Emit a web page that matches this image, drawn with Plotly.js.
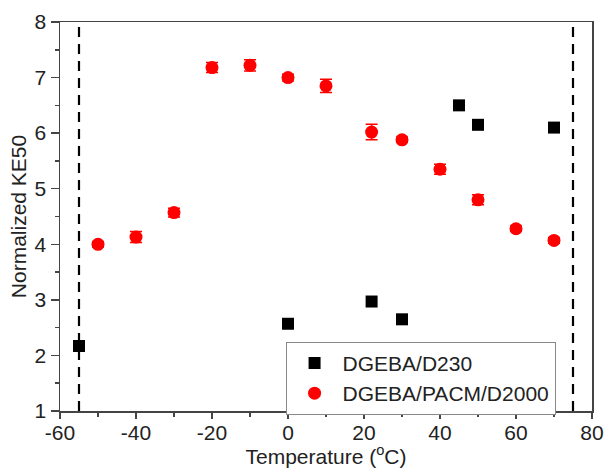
<!DOCTYPE html>
<html>
<head>
<meta charset="utf-8">
<script src="https://cdn.plot.ly/plotly-3.0.1.min.js"></script>
<style>html,body{margin:0;padding:0;background:#fff;}#chart{width:604px;height:468px;}</style>
</head>
<body>
<div id="chart"></div>
<script>
// DGEBA/D230 series
const d230Temp = [-55, 0, 22, 30, 45, 50, 70];
const d230KE50 = [2.17, 2.57, 2.97, 2.65, 6.50, 6.15, 6.10];
const d230Err  = [0.05, 0.06, 0.06, 0.05, 0.07, 0.06, 0.06];

// DGEBA/PACM/D2000 series
const d2000Temp = [-50, -40, -30, -20, -10, 0, 10, 22, 30, 40, 50, 60, 70];
const d2000KE50 = [4.00, 4.13, 4.57, 7.18, 7.22, 7.00, 6.85, 6.02, 5.88, 5.35, 4.80, 4.28, 4.07];
const d2000Err  = [0.05, 0.10, 0.08, 0.09, 0.10, 0.06, 0.12, 0.14, 0.05, 0.09, 0.09, 0.05, 0.05];

// Dashed vertical limit lines (temperature)
const limitTemps = [-55, 75];
const yRange = [1, 8];

// Tick labels (hyphen-minus as in the reference)
const xTickVals = [-60, -40, -20, 0, 20, 40, 60, 80];
const xTickText = ['-60', '-40', '-20', '0', '20', '40', '60', '80'];

const font = {family: '"Liberation Sans", Arial, sans-serif', size: 21, color: '#222'};

const traces = [];
limitTemps.forEach(t => {
  traces.push({
    x: [t, t], y: yRange, mode: 'lines', showlegend: false, hoverinfo: 'skip',
    line: {color: '#000', width: 2.2, dash: '10px,7px'}
  });
});
traces.push({
  x: d230Temp, y: d230KE50, name: 'DGEBA/D230', type: 'scatter', mode: 'markers',
  marker: {symbol: 'square', size: 12, color: '#000'},
  error_y: {type: 'data', array: d230Err, visible: true, color: '#000', thickness: 1.5, width: 5}
});
traces.push({
  x: d2000Temp, y: d2000KE50, name: 'DGEBA/PACM/D2000', type: 'scatter', mode: 'markers',
  marker: {symbol: 'circle', size: 13, color: '#ff0000'},
  error_y: {type: 'data', array: d2000Err, visible: true, color: '#ff0000', thickness: 1.5, width: 6}
});

const axisCommon = {
  showgrid: false, zeroline: false, showline: true, linecolor: '#444', linewidth: 1.5,
  mirror: true, ticks: 'outside', tickwidth: 1.5, tickcolor: '#444',
  tickfont: font
};

const layout = {
  width: 604, height: 468,
  margin: {l: 60, r: 12, t: 22, b: 57},
  paper_bgcolor: '#fff', plot_bgcolor: '#fff',
  font: font,
  xaxis: Object.assign({}, axisCommon, {
    range: [-60, 80], tickmode: 'array', tickvals: xTickVals, ticktext: xTickText,
    ticklen: 6, ticklabelstandoff: -4,
    minor: {tickmode: 'linear', tick0: -60, dtick: 10, ticks: 'outside', ticklen: 4, tickwidth: 1.5, tickcolor: '#444'},
    title: {text: 'Temperature (<sup>o</sup>C)', font: font, standoff: 2}
  }),
  yaxis: Object.assign({}, axisCommon, {
    range: yRange, dtick: 1, tick0: 1, ticklen: 8,
    minor: {dtick: 0.5, ticks: 'outside', ticklen: 4, tickwidth: 1.5, tickcolor: '#444'},
    title: {text: 'Normalized KE50', font: font, standoff: 2}
  }),
  legend: {
    x: 0.424, y: 0.178, xanchor: 'left', yanchor: 'top',
    bordercolor: '#888', borderwidth: 1, bgcolor: '#fff',
    font: font, tracegroupgap: 0, itemwidth: 46
  },
  showlegend: true
};

Plotly.newPlot('chart', traces, layout, {displayModeBar: false, staticPlot: true});
</script>
</body>
</html>
